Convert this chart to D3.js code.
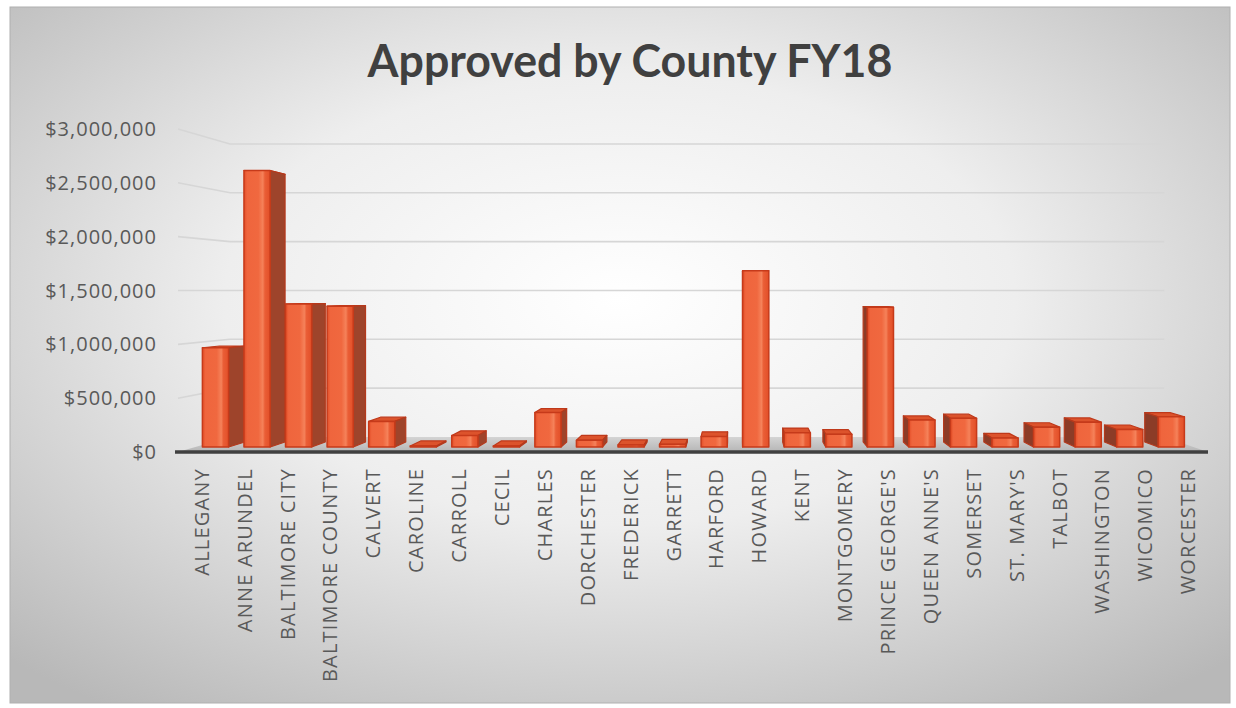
<!DOCTYPE html>
<html><head><meta charset="utf-8">
<script src="https://cdn.jsdelivr.net/npm/d3@7"></script>
<style>html,body{margin:0;padding:0;background:#fff;} svg{display:block}</style>
</head><body><svg id="c" width="1236" height="708"></svg>
<script>
const counties = ["ALLEGANY","ANNE ARUNDEL","BALTIMORE CITY","BALTIMORE COUNTY","CALVERT","CAROLINE","CARROLL","CECIL","CHARLES","DORCHESTER","FREDERICK","GARRETT","HARFORD","HOWARD","KENT","MONTGOMERY","PRINCE GEORGE'S","QUEEN ANNE'S","SOMERSET","ST. MARY'S","TALBOT","WASHINGTON","WICOMICO","WORCESTER"];
const approved = [950000,2650000,1370000,1350000,245000,10000,110000,10000,330000,65000,20000,25000,100000,1690000,137000,122000,1340000,258000,275000,85000,190000,238000,168000,290000];
const yTickValues = [0,500000,1000000,1500000,2000000,2500000,3000000];
const chartTitle = "Approved by County FY18";

const svg = d3.select("#c");
const defs = svg.append("defs");

// background
const bg = defs.append("radialGradient").attr("id","bg").attr("cx","50%").attr("cy","42%").attr("r","72%");
bg.append("stop").attr("offset","0%").attr("stop-color","#ffffff");
bg.append("stop").attr("offset","45%").attr("stop-color","#eeeeee");
bg.append("stop").attr("offset","100%").attr("stop-color","#b8b8b8");
svg.append("rect").attr("x",10).attr("y",7).attr("width",1220).attr("height",696)
  .attr("fill","url(#bg)").attr("stroke","#b0b0b0").attr("stroke-width",1);

const fg = defs.append("linearGradient").attr("id","front").attr("x1","0%").attr("x2","100%").attr("y1","0%").attr("y2","0%");
[["0%","#e34d27"],["12%","#ef653d"],["55%","#f0683f"],["72%","#f5825a"],["80%","#ea5e36"],["100%","#e24f28"]]
  .forEach(([o,c])=>fg.append("stop").attr("offset",o).attr("stop-color",c));

const floorG = defs.append("linearGradient").attr("id","floor").attr("x1","0").attr("x2","0").attr("y1","0").attr("y2","1");
floorG.append("stop").attr("offset","0%").attr("stop-color","#d4d4d4");
floorG.append("stop").attr("offset","100%").attr("stop-color","#b5b5b5");

// perspective setup
const VX = 737, VY = 290, S_WALL = 0.907, S_F = 0.969, S_B = 0.938;
const P = (X, Y, s) => [VX + (X - VX) * s, VY + (Y - VY) * s];

const x = d3.scaleBand().domain(counties).range([178, 1206]).paddingInner(0.37).paddingOuter(0.17);
const y = d3.scaleLinear().domain([0, 3000000]).range([452, 129]);
const XL = 178, XR = 1208;
const line = d3.line();

// floor
svg.append("path")
  .attr("d", line([P(XL,y(0),1),P(XR,y(0),1),P(XR,y(0),S_WALL),P(XL,y(0),S_WALL)]) + "Z")
  .attr("fill","url(#floor)");

// gridlines (left wall + back wall)
svg.append("g").selectAll("path").data(yTickValues.filter(v=>v>0)).join("path")
  .attr("d", v => line([P(XL,y(v),1), P(XL,y(v),S_WALL), P(XR,y(v),S_WALL)]))
  .attr("fill","none").attr("stroke","#d6d6d6").attr("stroke-width",1.6);

// y labels
svg.append("g").selectAll("text").data(yTickValues).join("text")
  .attr("x",157).attr("y",v=>y(v)).attr("dy","0.35em")
  .attr("text-anchor","end")
  .style("font-family","'Open Sans', sans-serif").style("font-size","20px").style("letter-spacing","1px")
  .attr("fill","#595959")
  .text(v => "$" + d3.format(",")(v));

// bars
const bw = x.bandwidth();
const bars = counties.map((c,i)=>({c, v: approved[i], X0: x(c), X1: x(c)+bw}));
bars.sort((a,b)=>Math.abs(b.X0+bw/2-VX)-Math.abs(a.X0+bw/2-VX));
const gB = svg.append("g");
bars.forEach(b=>{
  const Yt = y(b.v), Yb = y(0);
  const g = gB.append("g");
  const leftOfCenter = (b.X0 + bw/2) < VX;
  const SX = leftOfCenter ? b.X1 : b.X0;
  // top
  g.append("path").attr("d", line([P(b.X0,Yt,S_F),P(b.X1,Yt,S_F),P(b.X1,Yt,S_B),P(b.X0,Yt,S_B)])+"Z")
    .attr("fill","#dc532c").attr("stroke","#bf391a").attr("stroke-width",1.2).attr("stroke-linejoin","round");
  // side
  g.append("path").attr("d", line([P(SX,Yt,S_F),P(SX,Yt,S_B),P(SX,Yb,S_B),P(SX,Yb,S_F)])+"Z")
    .attr("fill", leftOfCenter ? "#9e442b" : "#8c3c27").attr("stroke","#b5391c").attr("stroke-width",1.2).attr("stroke-linejoin","round");
  // front
  g.append("path").attr("d", line([P(b.X0,Yt,S_F),P(b.X1,Yt,S_F),P(b.X1,Yb,S_F),P(b.X0,Yb,S_F)])+"Z")
    .attr("fill","url(#front)").attr("stroke","#c63a1a").attr("stroke-width",1.5).attr("stroke-linejoin","round");
});

// axis line
svg.append("line").attr("x1",175).attr("x2",XR).attr("y1",y(0)).attr("y2",y(0))
  .attr("stroke","#404040").attr("stroke-width",3.5);

// category labels
svg.append("g").selectAll("text").data(counties).join("text")
  .attr("transform", c => `translate(${x(c)+bw/2+3},468) rotate(-90)`)
  .attr("text-anchor","end").attr("dy","0.35em")
  .style("font-family","'Open Sans', sans-serif").style("font-size","20px").style("letter-spacing","1.2px")
  .attr("fill","#595959")
  .text(c=>c);

// title
const t = svg.append("text").attr("text-anchor","middle")
  .style("font-family","Lato, 'Open Sans', sans-serif").style("font-weight","700").style("font-size","46px")
  .attr("fill","#404040").text(chartTitle);
const tw = t.node().getComputedTextLength();
t.attr("transform", `translate(630,77) scale(${525/tw},1)`);
</script>
</body></html>
